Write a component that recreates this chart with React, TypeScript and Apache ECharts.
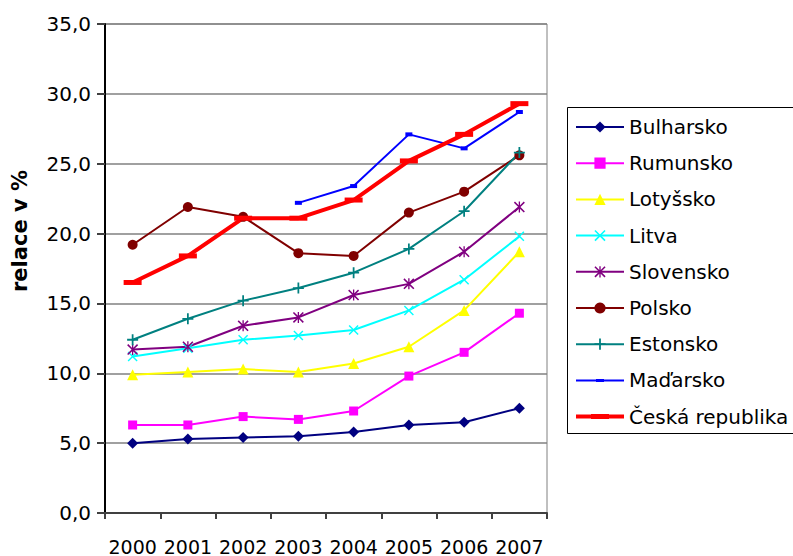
import React, { useEffect, useRef } from "react";
import * as echarts from "echarts";

const years = ["2000", "2001", "2002", "2003", "2004", "2005", "2006", "2007"];

const bulharsko = [5.0, 5.3, 5.4, 5.5, 5.8, 6.3, 6.5, 7.5];
const rumunsko = [6.3, 6.3, 6.9, 6.7, 7.3, 9.8, 11.5, 14.3];
const lotyssko = [9.9, 10.1, 10.3, 10.1, 10.7, 11.9, 14.5, 18.7];
const litva = [11.2, 11.8, 12.4, 12.7, 13.1, 14.5, 16.7, 19.8];
const slovensko = [11.7, 11.9, 13.4, 14.0, 15.6, 16.4, 18.7, 21.9];
const polsko = [19.2, 21.9, 21.2, 18.6, 18.4, 21.5, 23.0, 25.6];
const estonsko = [12.4, 13.9, 15.2, 16.1, 17.2, 18.9, 21.6, 25.8];
const madarsko = [null, null, null, 22.2, 23.4, 27.1, 26.1, 28.7];
const ceska = [16.5, 18.4, 21.1, 21.1, 22.4, 25.2, 27.1, 29.3];

const PLUS = "path://M4.2,0 H5.8 V4.2 H10 V5.8 H5.8 V10 H4.2 V5.8 H0 V4.2 H4.2 Z";
const CROSS =
  "path://M0,1 L1,0 L5,4 L9,0 L10,1 L6,5 L10,9 L9,10 L5,6 L1,10 L0,9 L4,5 Z";
const STAR =
  "path://M0,1 L1,0 L5,4 L9,0 L10,1 L6,5 L10,9 L9,10 L5,6 L1,10 L0,9 L4,5 Z M4.4,0 H5.6 V10 H4.4 Z";

// legend icons (48 x 14 box, corner points fix the bounding box)
const BOX = "M0,0 L0,0 M48,0 L48,0 M0,14 L0,14 M48,14 L48,14 ";
const MAD_ICON = "path://" + BOX + "M0,6 H48 V8 H0 Z M20,5.5 H28 V8.5 H20 Z";
const CZ_ICON = "path://" + BOX + "M0,5 H48 V9 H0 Z M15,4.5 H33 V9.5 H15 Z";

const FONT = "DejaVu Sans";

function mk(
  name: string,
  data: (number | null)[],
  color: string,
  symbol: string,
  symbolSize: number | number[],
  width: number
) {
  return {
    name,
    type: "line",
    data,
    symbol,
    symbolSize,
    showSymbol: true,
    showAllSymbol: true,
    connectNulls: false,
    lineStyle: { color, width },
    itemStyle: { color, borderWidth: 0 },
    emphasis: { disabled: true },
  };
}

export default function App() {
  const ref = useRef<HTMLDivElement>(null);
  useEffect(() => {
    document.body.style.margin = "0";
    const chart = echarts.init(ref.current!, undefined, { renderer: "svg" });
    const series = [
      mk("Bulharsko", bulharsko, "#000080", "diamond", 11, 2),
      mk("Rumunsko", rumunsko, "#FF00FF", "rect", 9, 2),
      mk("Lotyšsko", lotyssko, "#FFFF00", "triangle", 11, 2),
      mk("Litva", litva, "#00FFFF", CROSS, 10, 2),
      mk("Slovensko", slovensko, "#800080", STAR, 11, 2),
      mk("Polsko", polsko, "#800000", "circle", 10, 2),
      mk("Estonsko", estonsko, "#008080", PLUS, 11, 2),
      mk("Maďarsko", madarsko, "#0000FF", "rect", [7, 4], 2),
      mk("Česká republika", ceska, "#FF0000", "rect", [18, 5], 4),
    ];
    const legendData = series.map((s) => {
      if (s.name === "Maďarsko") return { name: s.name, icon: MAD_ICON };
      if (s.name === "Česká republika") return { name: s.name, icon: CZ_ICON };
      return { name: s.name };
    });
    chart.setOption({
      animation: false,
      textStyle: { fontFamily: FONT },
      grid: {
        left: 105,
        right: 246,
        top: 24,
        bottom: 39,
        show: true,
        borderColor: "#808080",
        borderWidth: 1,
      },
      graphic: [
        {
          type: "rect",
          z: 0,
          shape: { x: 567.5, y: 107.5, width: 260, height: 326 },
          style: { fill: "transparent", stroke: "#000", lineWidth: 1 },
        },
        {
          type: "text",
          x: 20,
          y: 231,
          rotation: Math.PI / 2,
          style: {
            text: "relace v %",
            font: `bold 21px '${FONT}'`,
            fill: "#000",
            align: "center",
            verticalAlign: "middle",
          },
        },
      ],
      legend: {
        orient: "vertical",
        left: 575,
        top: 117,
        padding: 0,
        itemWidth: 48,
        itemHeight: 14,
        itemGap: 16.2,
        data: legendData,
        textStyle: { fontSize: 20, fontFamily: FONT, color: "#000", lineHeight: 20 },
      },
      xAxis: {
        type: "category",
        data: years,
        boundaryGap: true,
        axisLine: { lineStyle: { color: "#404040", width: 2 } },
        axisTick: {
          show: true,
          interval: 0,
          length: 6,
          inside: false,
          lineStyle: { color: "#404040", width: 2 },
        },
        axisLabel: { interval: 0, fontSize: 19, color: "#000", margin: 24, fontFamily: FONT },
        splitLine: { show: false },
      },
      yAxis: {
        type: "value",
        min: 0,
        max: 35,
        interval: 5,
        axisLine: { show: true, lineStyle: { color: "#000", width: 2 } },
        axisTick: { show: true, length: 8, lineStyle: { color: "#404040", width: 2 } },
        axisLabel: {
          fontSize: 20,
          color: "#000",
          margin: 14,
          fontFamily: FONT,
          formatter: (v: number) => v.toFixed(1).replace(".", ","),
        },
        splitLine: { show: true, lineStyle: { color: "#808080", width: 1.5 } },
      },
      series,
    });
    return () => chart.dispose();
  }, []);
  return <div ref={ref} style={{ width: 793, height: 556 }} />;
}
